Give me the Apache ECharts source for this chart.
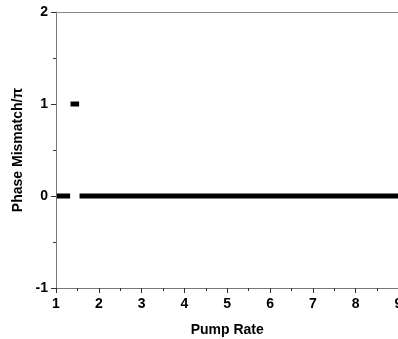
<!DOCTYPE html>
<html>
<head>
<meta charset="utf-8">
<script src="https://cdn.jsdelivr.net/npm/echarts@6/dist/echarts.min.js"></script>
<style>
html,body{margin:0;padding:0;background:#fff;}
#chart{width:398px;height:339px;}
</style>
</head>
<body>
<div id="chart"></div>
<script>
// Data
const pumpRate = [1.02, 1.33, 1.335, 1.34, 1.54, 1.545, 1.55, 9.0];
const phaseMismatch = [0, 0, null, 1, 1, null, 0, 0];
const xTicks = [1, 2, 3, 4, 5, 6, 7, 8, 9];
const yTicks = [-1, 0, 1, 2];

const seriesData = pumpRate.map((x, i) => [x, phaseMismatch[i] === null ? '-' : phaseMismatch[i]]);

const chart = echarts.init(document.getElementById('chart'), null, {renderer: 'canvas'});
const labelFont = {fontFamily: 'Liberation Sans, Arial, sans-serif', fontWeight: 'bold', fontSize: 14, color: '#000'};
chart.setOption({
  animation: false,
  backgroundColor: '#fff',
  grid: {left: 56, top: 12, width: 342.5, bottom: 51, containLabel: false, outerBoundsMode: 'none'},
  xAxis: [{
    type: 'value', min: xTicks[0], max: xTicks[xTicks.length - 1], interval: 1,
    name: 'Pump Rate', nameLocation: 'middle', nameGap: 35,
    nameTextStyle: {fontFamily: 'Liberation Sans, Arial, sans-serif', fontWeight: 'bold', fontSize: 14, color: '#000', verticalAlign: 'top'},
    axisLine: {show: true, onZero: false, lineStyle: {color: '#777', width: 1}},
    axisTick: {show: true, inside: false, length: 5, lineStyle: {color: '#333'}},
    minorTick: {show: true, splitNumber: 2, length: 3, lineStyle: {color: '#333'}},
    splitLine: {show: false},
    axisLabel: Object.assign({margin: 9, hideOverlap: false, showMaxLabel: true, showMinLabel: true}, labelFont)
  }, {
    type: 'value', position: 'top', min: xTicks[0], max: xTicks[xTicks.length - 1],
    axisLine: {show: true, onZero: false, lineStyle: {color: '#888', width: 1}},
    axisTick: {show: false}, axisLabel: {show: false}, splitLine: {show: false}
  }],
  yAxis: {
    type: 'value', min: yTicks[0], max: yTicks[yTicks.length - 1], interval: 1,
    name: 'Phase Mismatch/\u03c0', nameLocation: 'middle', nameGap: 30, nameRotate: 90,
    nameTextStyle: {fontFamily: 'Liberation Sans, Arial, sans-serif', fontWeight: 'bold', fontSize: 14, color: '#000'},
    axisLine: {show: true, onZero: false, lineStyle: {color: '#777', width: 1}},
    axisTick: {show: true, inside: false, length: 5, lineStyle: {color: '#333'}},
    minorTick: {show: true, splitNumber: 2, length: 3, lineStyle: {color: '#333'}},
    splitLine: {show: false},
    axisLabel: Object.assign({margin: 8, showMaxLabel: true, showMinLabel: true}, labelFont)
  },
  series: [{
    type: 'line', data: seriesData, xAxisIndex: 0,
    connectNulls: false, showSymbol: false, symbol: 'none',
    lineStyle: {color: '#000', width: 5, cap: 'butt'}
  }]
});
</script>
</body>
</html>
